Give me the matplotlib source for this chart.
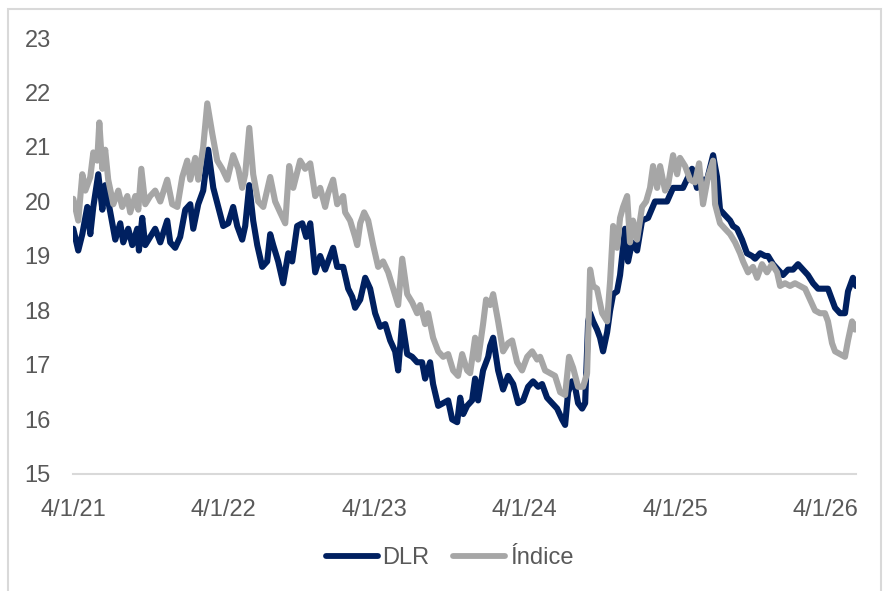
"""DLR vs Índice, 2021-2026 (line chart, Excel-style)."""
import numpy as np
import pandas as pd
import matplotlib
matplotlib.use("Agg")
import matplotlib.pyplot as plt
from matplotlib.patches import Rectangle

NAVY, GREY, TXT, AXIS = "#002060", "#A6A6A6", "#595959", "#D9D9D9"
FONT = ["Liberation Sans", "DejaVu Sans"]

# time in fractional years
dlr_t = [2021.010, 2021.043, 2021.070, 2021.103, 2021.123, 2021.143, 2021.176, 2021.203, 2021.222, 2021.256,
         2021.289, 2021.322, 2021.342, 2021.375, 2021.402, 2021.435, 2021.446, 2021.468, 2021.488, 2021.521,
         2021.554, 2021.588, 2021.634, 2021.654, 2021.687, 2021.720, 2021.754, 2021.787, 2021.807, 2021.840,
         2021.873, 2021.906, 2021.940, 2021.973, 2022.006, 2022.039, 2022.072, 2022.099, 2022.132, 2022.152,
         2022.179, 2022.205, 2022.232, 2022.265, 2022.298, 2022.318, 2022.338, 2022.371, 2022.404, 2022.438,
         2022.464, 2022.497, 2022.531, 2022.557, 2022.584, 2022.617, 2022.650, 2022.683, 2022.703, 2022.736,
         2022.763, 2022.803, 2022.836, 2022.863, 2022.882, 2022.916, 2022.949, 2022.982, 2023.015, 2023.048,
         2023.082, 2023.115, 2023.148, 2023.168, 2023.195, 2023.228, 2023.261, 2023.294, 2023.327, 2023.347,
         2023.380, 2023.400, 2023.434, 2023.467, 2023.500, 2023.527, 2023.560, 2023.580, 2023.600, 2023.626,
         2023.659, 2023.679, 2023.699, 2023.732, 2023.766, 2023.779, 2023.799, 2023.832, 2023.865, 2023.898,
         2023.932, 2023.965, 2023.998, 2024.031, 2024.064, 2024.098, 2024.124, 2024.157, 2024.191, 2024.224,
         2024.257, 2024.277, 2024.297, 2024.323, 2024.343, 2024.363, 2024.390, 2024.410, 2024.430, 2024.443,
         2024.463, 2024.489, 2024.509, 2024.529, 2024.556, 2024.576, 2024.596, 2024.622, 2024.642, 2024.675,
         2024.695, 2024.722, 2024.755, 2024.788, 2024.828, 2024.874, 2024.908, 2024.954, 2024.994, 2025.060,
         2025.120, 2025.153, 2025.187, 2025.220, 2025.260, 2025.286, 2025.306, 2025.339, 2025.373, 2025.392,
         2025.419, 2025.452, 2025.485, 2025.519, 2025.539, 2025.572, 2025.605, 2025.625, 2025.658, 2025.691,
         2025.724, 2025.758, 2025.791, 2025.824, 2025.857, 2025.890, 2025.924, 2025.957, 2025.990, 2026.023,
         2026.050, 2026.070, 2026.103, 2026.136, 2026.156, 2026.183, 2026.189, 2026.209]
dlr_v = [19.5, 19.1, 19.4, 19.9, 19.4, 19.9, 20.5, 19.85, 20.3, 19.8,
         19.3, 19.6, 19.25, 19.5, 19.2, 19.5, 19.1, 19.7, 19.2, 19.35,
         19.5, 19.25, 19.65, 19.25, 19.15, 19.35, 19.85, 19.95, 19.5, 19.95,
         20.2, 20.95, 20.25, 19.9, 19.55, 19.6, 19.9, 19.55, 19.3, 19.55,
         20.3, 19.65, 19.2, 18.8, 18.9, 19.4, 19.2, 18.9, 18.5, 19.05,
         18.9, 19.55, 19.6, 19.35, 19.6, 18.7, 19.0, 18.75, 18.9, 19.15,
         18.8, 18.8, 18.4, 18.25, 18.05, 18.2, 18.6, 18.4, 17.95, 17.7,
         17.75, 17.45, 17.25, 16.9, 17.8, 17.2, 17.15, 17.05, 17.05, 16.75,
         17.05, 16.65, 16.25, 16.3, 16.35, 16.0, 15.95, 16.4, 16.1, 16.25,
         16.35, 16.75, 16.35, 16.9, 17.15, 17.35, 17.5, 16.9, 16.55, 16.8,
         16.65, 16.3, 16.35, 16.6, 16.7, 16.6, 16.65, 16.4, 16.3, 16.2,
         16.0, 15.9, 16.5, 16.7, 16.6, 16.3, 16.2, 16.3, 17.8, 17.95,
         17.8, 17.65, 17.5, 17.25, 17.6, 18.0, 18.3, 18.35, 18.65, 19.5,
         18.9, 19.25, 19.1, 19.65, 19.7, 20.0, 20.0, 20.0, 20.25, 20.25,
         20.6, 20.25, 20.4, 20.4, 20.85, 20.45, 19.85, 19.75, 19.65, 19.55,
         19.5, 19.3, 19.05, 19.0, 18.95, 19.05, 19.0, 19.0, 18.85, 18.75,
         18.65, 18.75, 18.75, 18.85, 18.75, 18.65, 18.5, 18.4, 18.4, 18.4,
         18.2, 18.05, 17.95, 17.95, 18.35, 18.55, 18.6, 18.45]

idx_t = [2021.010, 2021.043, 2021.070, 2021.090, 2021.123, 2021.143, 2021.169, 2021.183, 2021.203, 2021.222,
         2021.242, 2021.276, 2021.309, 2021.335, 2021.369, 2021.388, 2021.422, 2021.442, 2021.462, 2021.488,
         2021.521, 2021.554, 2021.588, 2021.634, 2021.667, 2021.701, 2021.734, 2021.767, 2021.787, 2021.820,
         2021.840, 2021.873, 2021.900, 2021.933, 2021.966, 2021.999, 2022.033, 2022.072, 2022.106, 2022.132,
         2022.152, 2022.179, 2022.205, 2022.238, 2022.272, 2022.318, 2022.351, 2022.384, 2022.418, 2022.444,
         2022.471, 2022.517, 2022.550, 2022.584, 2022.617, 2022.650, 2022.683, 2022.703, 2022.736, 2022.763,
         2022.803, 2022.816, 2022.849, 2022.882, 2022.896, 2022.916, 2022.942, 2022.969, 2023.002, 2023.035,
         2023.068, 2023.102, 2023.135, 2023.168, 2023.195, 2023.228, 2023.261, 2023.294, 2023.314, 2023.347,
         2023.367, 2023.400, 2023.434, 2023.467, 2023.500, 2023.533, 2023.566, 2023.593, 2023.626, 2023.646,
         2023.679, 2023.699, 2023.732, 2023.752, 2023.779, 2023.799, 2023.832, 2023.865, 2023.898, 2023.925,
         2023.958, 2023.991, 2024.025, 2024.058, 2024.091, 2024.111, 2024.144, 2024.177, 2024.210, 2024.244,
         2024.277, 2024.303, 2024.330, 2024.363, 2024.396, 2024.423, 2024.443, 2024.463, 2024.489, 2024.523,
         2024.556, 2024.576, 2024.596, 2024.622, 2024.642, 2024.662, 2024.689, 2024.708, 2024.728, 2024.755,
         2024.788, 2024.815, 2024.841, 2024.861, 2024.888, 2024.908, 2024.941, 2024.961, 2024.994, 2025.021,
         2025.040, 2025.074, 2025.107, 2025.140, 2025.167, 2025.193, 2025.226, 2025.260, 2025.273, 2025.306,
         2025.339, 2025.373, 2025.406, 2025.439, 2025.459, 2025.492, 2025.525, 2025.552, 2025.585, 2025.618,
         2025.651, 2025.685, 2025.705, 2025.738, 2025.771, 2025.804, 2025.837, 2025.871, 2025.904, 2025.937,
         2025.970, 2026.003, 2026.023, 2026.050, 2026.070, 2026.103, 2026.136, 2026.156, 2026.183, 2026.202,
         2026.216]
idx_v = [20.05, 19.65, 20.5, 20.2, 20.45, 20.9, 20.75, 21.45, 20.6, 20.95,
         20.4, 19.95, 20.2, 19.9, 20.1, 19.8, 20.1, 19.85, 20.6, 19.95,
         20.1, 20.2, 20.0, 20.4, 19.95, 19.9, 20.45, 20.75, 20.4, 20.8,
         20.4, 21.0, 21.8, 21.25, 20.75, 20.6, 20.4, 20.85, 20.6, 20.25,
         20.5, 21.35, 20.5, 20.0, 19.9, 20.45, 20.0, 19.8, 19.6, 20.65,
         20.25, 20.75, 20.6, 20.7, 20.1, 20.25, 19.9, 20.15, 20.4, 19.95,
         20.1, 19.8, 19.65, 19.35, 19.2, 19.6, 19.8, 19.65, 19.2, 18.8,
         18.9, 18.7, 18.4, 18.1, 18.95, 18.3, 18.15, 17.95, 18.1, 17.75,
         17.95, 17.5, 17.25, 17.15, 17.2, 16.9, 16.8, 17.2, 16.9, 16.85,
         17.5, 17.1, 17.75, 18.2, 18.1, 18.3, 17.8, 17.25, 17.4, 17.45,
         17.05, 16.9, 17.15, 17.25, 17.1, 17.15, 16.9, 16.85, 16.8, 16.5,
         16.45, 17.15, 16.95, 16.6, 16.6, 16.85, 18.75, 18.45, 18.4, 17.95,
         17.8, 18.55, 19.55, 19.15, 19.7, 19.9, 20.1, 19.25, 19.65, 19.3,
         19.9, 20.0, 20.25, 20.65, 20.25, 20.65, 20.2, 20.3, 20.85, 20.5,
         20.8, 20.65, 20.4, 20.35, 20.7, 19.95, 20.45, 20.75, 19.95, 19.6,
         19.5, 19.4, 19.25, 19.05, 18.9, 18.7, 18.8, 18.6, 18.85, 18.7,
         18.85, 18.7, 18.45, 18.5, 18.45, 18.5, 18.45, 18.4, 18.2, 18.0,
         17.95, 17.95, 17.8, 17.4, 17.25, 17.2, 17.15, 17.45, 17.8, 17.65,
         17.75]

tick_years = [2021, 2022, 2023, 2024, 2025, 2026]
y_ticks = [15, 16, 17, 18, 19, 20, 21, 22, 23]


def _dates(t):
    t = np.asarray(t, dtype=float)
    return pd.Timestamp("2021-01-01") + pd.to_timedelta((t - 2021.0) * 365.25, unit="D")


plt.rcParams["font.family"] = FONT
fig = plt.figure(figsize=(8.85, 5.91), dpi=100)
ax = fig.add_axes([0.0825, 0.198, 0.8847, 0.7377])

ax.plot(_dates(dlr_t), dlr_v, color=NAVY, lw=4.4, label="DLR", solid_joinstyle="round", solid_capstyle="round")
ax.plot(_dates(idx_t), idx_v, color=GREY, lw=4.4, label="Índice", solid_joinstyle="round", solid_capstyle="round")

ax.set_ylim(15, 23)
ax.set_yticks(y_ticks)
ticks = [pd.Timestamp(f"{y}-01-04") for y in tick_years]
ax.set_xlim(_dates([2021.010])[0], _dates([2026.209])[0])
ax.set_xticks(ticks)
ax.set_xticklabels([f"{d.day}/{d.month}/{d:%y}" for d in ticks])

for s in ("top", "right", "left"):
    ax.spines[s].set_visible(False)
ax.spines["bottom"].set_color(AXIS)
ax.spines["bottom"].set_linewidth(1.5)
ax.tick_params(axis="both", length=0, labelsize=17, colors=TXT)
ax.tick_params(axis="y", pad=16)
ax.tick_params(axis="x", pad=18)

leg = fig.legend(loc="center", bbox_to_anchor=(0.508, 0.056), ncol=2, frameon=False, fontsize=17,
                 handlelength=2.2, handletextpad=0.2, columnspacing=1.0)
for txt in leg.get_texts():
    txt.set_color(TXT)
for h in leg.get_lines():
    h.set_linewidth(4.2)

# chart frame (light grey, runs off the bottom edge)
fig.patches.append(Rectangle((8 / 885, -0.01), 873 / 885, 1 - 9 / 591 + 0.01, transform=fig.transFigure,
                             fill=False, edgecolor=AXIS, lw=1.5))

fig.savefig("out.png", dpi=100)
